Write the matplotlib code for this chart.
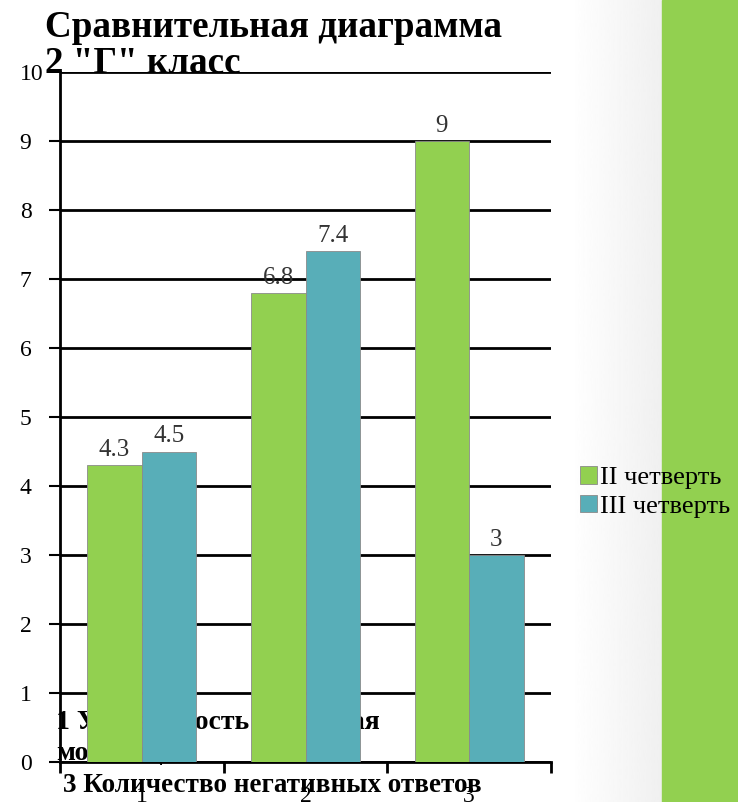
import numpy as np
import matplotlib
matplotlib.use("Agg")
import matplotlib.pyplot as plt
from matplotlib.patches import Rectangle

# data
groups = ["1", "2", "3"]
q2 = [4.3, 6.8, 9]
q3 = [4.5, 7.4, 3]
series_names = ["II четверть", "III четверть"]
title = 'Сравнительная диаграмма\n2 "Г" класс'
cat_note_top = "1 Успеваемость и учебная\nмотивация"
cat_note_bottom = "3 Количество негативных ответов"

green = "#92D050"
teal = "#58AEB8"
serif = ["Liberation Serif", "DejaVu Serif"]

plt.rcParams["font.family"] = serif

fig = plt.figure(figsize=(7.38, 8.02), dpi=100)

# background: soft shadow and green stripe on the right
bg = fig.add_axes([0, 0, 1, 1], zorder=-5)
bg.set_xlim(0, 738)
bg.set_ylim(802, 0)
bg.axis("off")
grad = np.linspace(1.0, 0.94, 200).reshape(1, -1)
bg.imshow(grad, cmap="gray", vmin=0, vmax=1, extent=[570, 662, 802, 0], aspect="auto")
bg.add_patch(Rectangle((662, 0), 76, 802, color=green))

ax = fig.add_axes([60 / 738, 1 - 762 / 802, 491 / 738, 690 / 802])
ax.patch.set_alpha(0)

x = np.arange(len(groups))
w = 0.334
b1 = ax.bar(x - w / 2, q2, w, color=green, edgecolor="#8a8a8a", linewidth=0.6,
            label=series_names[0], zorder=3)
b2 = ax.bar(x + w / 2, q3, w, color=teal, edgecolor="#8a8a8a", linewidth=0.6,
            label=series_names[1], zorder=3)
for bars in (b1, b2):
    ax.bar_label(bars, labels=[f"{v:g}" for v in bars.datavalues], padding=3,
                 fontsize=18, color="#333333")

ax.set_xlim(-0.5, 2.5)
ax.set_ylim(0, 10)
ax.set_yticks(range(0, 11))
ax.yaxis.grid(True, color="black", linewidth=2, zorder=0)
ax.set_axisbelow(True)
ax.tick_params(axis="y", length=8, width=1.5, labelsize=17, pad=21, direction="out")
for lbl in ax.get_yticklabels():
    lbl.set_ha("left")
ax.yaxis.get_major_ticks()[-1].tick1line.set_visible(False)
for s in ["top", "right"]:
    ax.spines[s].set_visible(False)
ax.spines["left"].set_linewidth(2)
ax.spines["bottom"].set_linewidth(2)

ax.set_xticks([-0.5, 0.5, 1.5, 2.5], minor=True)
ax.tick_params(axis="x", which="minor", length=8, width=2)
ax.set_xticks(x)
ax.set_xticklabels(groups)
ax.tick_params(axis="x", which="major", length=0, labelsize=17, pad=17)

# category names partly hidden behind the bars
fig.text(56 / 738, 1 - 760 / 802, cat_note_top, fontsize=20, fontweight="bold",
         va="baseline", ha="left", linespacing=1.3, zorder=-1)
fig.text(63 / 738, 1 - 792 / 802, cat_note_bottom, fontsize=19.5, fontweight="bold",
         va="baseline", ha="left")

fig.text(45 / 738, 1 - 73 / 802, title, fontsize=26.7, fontweight="bold",
         va="baseline", ha="left", linespacing=1.02)

fig.legend(handles=[b1, b2], loc="center left", bbox_to_anchor=(580 / 738, 1 - 492 / 802),
           frameon=False, fontsize=19, handlelength=0.65, handleheight=0.65,
           handletextpad=0.12, labelspacing=0.2, borderaxespad=0, borderpad=0)

fig.savefig("out.png", dpi=100)
